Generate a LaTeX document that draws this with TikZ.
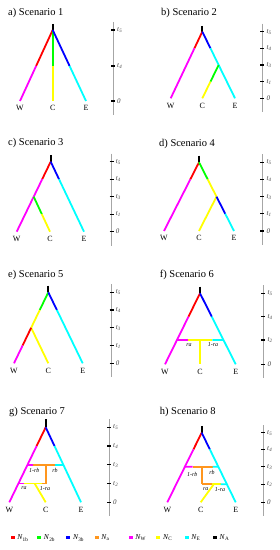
\documentclass[tikz,border=0pt]{standalone}
\usepackage{fontspec}
\setmainfont{Liberation Serif}
\usetikzlibrary{calc}
\definecolor{nbonecolor}{RGB}{255,0,0}
\definecolor{nbtwocolor}{RGB}{0,255,0}
\definecolor{nbthreecolor}{RGB}{0,0,255}
\definecolor{nacolor}{RGB}{255,150,30}
\definecolor{nwcolor}{RGB}{255,0,255}
\definecolor{nccolor}{RGB}{255,255,0}
\definecolor{necolor}{RGB}{0,255,255}
\definecolor{nancolor}{RGB}{0,0,0}

\newcommand{\tlab}[1]{\textit{t}\textsubscript{\textit{#1}}}
% time axis of one panel: prefix, x, top, list of height/label
\newcommand{\timeaxis}[4]{%
  \draw[axisline] (#2,#3) -- (#2,-14);
  \foreach \h/\lab [count=\i] in {#4} {
    \draw[axistick] (#2-2,\h) -- (#2+2,\h);
    \node[timelabel] (#1t\i) at (#2+4,\h) {\lab};
  }%
}

\begin{document}
\begin{tikzpicture}[x=1bp, y=1bp,
    branch/.style={line width=1.8bp},
    axisline/.style={gray!70, line width=0.6bp},
    axistick/.style={black, line width=1.3bp},
    timelabel/.style={font=\fontsize{7}{8}\selectfont, text=black!75, anchor=west, inner sep=0pt},
    leaflabel/.style={font=\fontsize{8}{9}\selectfont, anchor=north, inner sep=0pt},
    panelname/.style={font=\fontsize{10.5}{12}\selectfont, anchor=west, inner sep=0pt},
    ratelabel/.style={font=\fontsize{6}{7}\selectfont\itshape, inner sep=0pt},
    legendlabel/.style={font=\fontsize{7.5}{8}\selectfont, anchor=west, inner sep=0pt}]

  \useasboundingbox (0,0) rectangle (279,550);

  % a) one split, all three at t5
  \begin{scope}[shift={(52.7,449)}]
    \node[panelname] (atitle) at (-44.7,88) {a) Scenario 1};
    \coordinate (aT) at (0,77);
    \coordinate (aJ) at (0,71);
    \coordinate (aW) at (-32.7,0);
    \coordinate (aC) at (0,0);
    \coordinate (aE) at (33.3,0);
    \coordinate (aW4) at ($(aJ)!0.507!(aW)$);
    \coordinate (aC4) at (0,35);
    \coordinate (aE4) at ($(aJ)!0.507!(aE)$);
    \draw[branch, nancolor] (aT) -- (aJ);
    \draw[branch, nbonecolor] (aJ) -- (aW4);
    \draw[branch, nwcolor] (aW4) -- (aW);
    \draw[branch, nbtwocolor] (aJ) -- (aC4);
    \draw[branch, nccolor] (aC4) -- (aC);
    \draw[branch, nbthreecolor] (aJ) -- (aE4);
    \draw[branch, necolor] (aE4) -- (aE);
    \node[leaflabel] (aWl) at ($(aW)+(0,-4.3)$) {W};
    \node[leaflabel] (aCl) at ($(aC)+(0,-4.3)$) {C};
    \node[leaflabel] (aEl) at ($(aE)+(0,-4.3)$) {E};
    \timeaxis{a}{60.3}{79}{71/\tlab{5}, 35/\tlab{4}, 0/\textit{0}}
  \end{scope}

  % b) C splits from E at t3
  \begin{scope}[shift={(202.3,451.7)}]
    \node[panelname] (btitle) at (-41.3,85.3) {b) Scenario 2};
    \coordinate (bT) at (0,72.3);
    \coordinate (bJ) at (0,66.6);
    \coordinate (bW) at (-31.6,0);
    \coordinate (bC) at (0,0);
    \coordinate (bE) at (32.7,0);
    \coordinate (bN) at ($(bJ)!0.5!(bE)$);
    \coordinate (bW4) at ($(bJ)!0.25!(bW)$);
    \coordinate (bE4) at ($(bJ)!0.25!(bE)$);
    \coordinate (bC1) at ($(bN)!0.5!(bC)$);
    \draw[branch, nancolor] (bT) -- (bJ);
    \draw[branch, nbonecolor] (bJ) -- (bW4);
    \draw[branch, nwcolor] (bW4) -- (bW);
    \draw[branch, nbthreecolor] (bJ) -- (bE4);
    \draw[branch, necolor] (bE4) -- (bE);
    \draw[branch, nbtwocolor] (bN) -- (bC1);
    \draw[branch, nccolor] (bC1) -- (bC);
    \node[leaflabel] (bWl) at ($(bW)+(0,-4.3)$) {W};
    \node[leaflabel] (bCl) at ($(bC)+(0,-4.3)$) {C};
    \node[leaflabel] (bEl) at ($(bE)+(0,-4.3)$) {E};
    \timeaxis{b}{60}{74.6}{66.6/\tlab{5}, 50/\tlab{4}, 33.3/\tlab{3}, 16.6/\tlab{1}, 0/\textit{0}}
  \end{scope}

  % c) C splits from W at t3
  \begin{scope}[shift={(50.7,318.3)}]
    \node[panelname] (ctitle) at (-42.7,88.7) {c) Scenario 3};
    \coordinate (cT) at (0,76.7);
    \coordinate (cJ) at (0,70);
    \coordinate (cW) at (-34,0);
    \coordinate (cC) at (-0.7,0);
    \coordinate (cE) at (33.3,0);
    \coordinate (cN) at ($(cJ)!0.5!(cW)$);
    \coordinate (cW4) at ($(cJ)!0.25!(cW)$);
    \coordinate (cE4) at ($(cJ)!0.25!(cE)$);
    \coordinate (cC1) at ($(cN)!0.5!(cC)$);
    \draw[branch, nancolor] (cT) -- (cJ);
    \draw[branch, nbonecolor] (cJ) -- (cW4);
    \draw[branch, nwcolor] (cW4) -- (cW);
    \draw[branch, nbthreecolor] (cJ) -- (cE4);
    \draw[branch, necolor] (cE4) -- (cE);
    \draw[branch, nbtwocolor] (cN) -- (cC1);
    \draw[branch, nccolor] (cC1) -- (cC);
    \node[leaflabel] (cWl) at ($(cW)+(0,-4.3)$) {W};
    \node[leaflabel] (cCl) at ($(cC)+(0,-4.3)$) {C};
    \node[leaflabel] (cEl) at ($(cE)+(0,-4.3)$) {E};
    \timeaxis{c}{61}{78}{70/\tlab{5}, 52.5/\tlab{4}, 35/\tlab{3}, 17.5/\tlab{1}, 0/\textit{0}}
  \end{scope}

  % d) E splits from C at t3
  \begin{scope}[shift={(199,319)}]
    \node[panelname] (dtitle) at (-40,86.7) {d) Scenario 4};
    \coordinate (dT) at (0,75.3);
    \coordinate (dJ) at (0,68.7);
    \coordinate (dW) at (-35,0);
    \coordinate (dC) at (0,0);
    \coordinate (dE) at (35,0);
    \coordinate (dN) at ($(dJ)!0.5!(dE)$);
    \coordinate (dW4) at ($(dJ)!0.25!(dW)$);
    \coordinate (dG4) at ($(dJ)!0.25!(dE)$);
    \coordinate (dE1) at ($(dJ)!0.75!(dE)$);
    \draw[branch, nancolor] (dT) -- (dJ);
    \draw[branch, nbonecolor] (dJ) -- (dW4);
    \draw[branch, nwcolor] (dW4) -- (dW);
    \draw[branch, nbtwocolor] (dJ) -- (dG4);
    \draw[branch, nccolor] (dG4) -- (dN);
    \draw[branch, nccolor] (dN) -- (dC);
    \draw[branch, nbthreecolor] (dN) -- (dE1);
    \draw[branch, necolor] (dE1) -- (dE);
    \node[leaflabel] (dWl) at ($(dW)+(0,-4.3)$) {W};
    \node[leaflabel] (dCl) at ($(dC)+(0,-4.3)$) {C};
    \node[leaflabel] (dEl) at ($(dE)+(0,-4.3)$) {E};
    \timeaxis{d}{63.3}{76.7}{68.7/\tlab{5}, 51.5/\tlab{4}, 34.3/\tlab{3}, 17.2/\tlab{1}, 0/\textit{0}}
  \end{scope}

  % e) W splits from C at t3
  \begin{scope}[shift={(48.3,186.7)}]
    \node[panelname] (etitle) at (-40.3,88.3) {e) Scenario 5};
    \coordinate (eT) at (0,77.6);
    \coordinate (eJ) at (0,71);
    \coordinate (eW) at (-34.3,0);
    \coordinate (eC) at (0,0);
    \coordinate (eE) at (34.4,0);
    \coordinate (eN) at ($(eJ)!0.5!(eW)$);
    \coordinate (eG4) at ($(eJ)!0.25!(eW)$);
    \coordinate (eW1) at ($(eJ)!0.75!(eW)$);
    \coordinate (eE4) at ($(eJ)!0.25!(eE)$);
    \draw[branch, nancolor] (eT) -- (eJ);
    \draw[branch, nbtwocolor] (eJ) -- (eG4);
    \draw[branch, nccolor] (eG4) -- (eN);
    \draw[branch, nccolor] (eN) -- (eC);
    \draw[branch, nbonecolor] (eN) -- (eW1);
    \draw[branch, nwcolor] (eW1) -- (eW);
    \draw[branch, nbthreecolor] (eJ) -- (eE4);
    \draw[branch, necolor] (eE4) -- (eE);
    \node[leaflabel] (eWl) at ($(eW)+(0,-4.3)$) {W};
    \node[leaflabel] (eCl) at ($(eC)+(0,-4.3)$) {C};
    \node[leaflabel] (eEl) at ($(eE)+(0,-4.3)$) {E};
    \timeaxis{e}{63.4}{79}{71/\tlab{5}, 53.25/\tlab{4}, 35.5/\tlab{3}, 17.75/\tlab{1}, 0/\textit{0}}
  \end{scope}

  % f) C from admixture of W and E
  \begin{scope}[shift={(200,185.7)}]
    \node[panelname] (ftitle) at (-40.3,89.3) {f) Scenario 6};
    \coordinate (fT) at (0,77.6);
    \coordinate (fJ) at (0,71);
    \coordinate (fW) at (-35,0);
    \coordinate (fC) at (0,0);
    \coordinate (fE) at (35.7,0);
    \coordinate (fW4) at ($(fJ)!0.33!(fW)$);
    \coordinate (fE4) at ($(fJ)!0.33!(fE)$);
    \coordinate (fWA) at ($(fJ)!0.658!(fW)$);
    \coordinate (fEA) at ($(fJ)!0.658!(fE)$);
    \coordinate (fM1) at (-11.7,24.3);
    \coordinate (fCA) at (0,24.3);
    \coordinate (fM2) at (12.3,24.3);
    \draw[branch, nancolor] (fT) -- (fJ);
    \draw[branch, nbonecolor] (fJ) -- (fW4);
    \draw[branch, nwcolor] (fW4) -- (fW);
    \draw[branch, nbthreecolor] (fJ) -- (fE4);
    \draw[branch, necolor] (fE4) -- (fE);
    \draw[branch, nwcolor] (fWA) -- (fM1);
    \draw[branch, nccolor] (fM1) -- (fM2);
    \draw[branch, necolor] (fM2) -- (fEA);
    \draw[branch, nccolor] (fCA) -- (fC);
    \node[ratelabel] (fra) at (-11,19.3) {ra};
    \node[ratelabel] (fra1) at (13,19.3) {1-ra};
    \node[leaflabel] (fWl) at ($(fW)+(0,-4.3)$) {W};
    \node[leaflabel] (fCl) at ($(fC)+(0,-4.3)$) {C};
    \node[leaflabel] (fEl) at ($(fE)+(0,-4.3)$) {E};
    \timeaxis{f}{63.3}{79}{71/\tlab{5}, 47.6/\tlab{4}, 24.3/\tlab{2}, 0/\textit{0}}
  \end{scope}

  % g) two admixture pulses, W side
  \begin{scope}[shift={(45.7,47.7)}]
    \node[panelname] (gtitle) at (-36.7,90.6) {g) Scenario 7};
    \coordinate (gT) at (0,83);
    \coordinate (gJ) at (0,75);
    \coordinate (gW) at (-36.4,0);
    \coordinate (gC) at (0,0);
    \coordinate (gE) at (35.3,0);
    \coordinate (gW4) at ($(gJ)!0.25!(gW)$);
    \coordinate (gE4) at ($(gJ)!0.25!(gE)$);
    \coordinate (gWB) at ($(gJ)!0.5!(gW)$);
    \coordinate (gEB) at ($(gJ)!0.5!(gE)$);
    \coordinate (gWA) at ($(gJ)!0.75!(gW)$);
    \coordinate (gB1) at (-13,37.5);
    \coordinate (gBO) at (0,37.5);
    \coordinate (gB2) at (9,37.5);
    \coordinate (gA1) at (-22,18.75);
    \coordinate (gAC) at (-11,18.75);
    \coordinate (gA2) at (-4,18.75);
    \coordinate (gAO) at (0,18.75);
    \draw[branch, nancolor] (gT) -- (gJ);
    \draw[branch, nbonecolor] (gJ) -- (gW4);
    \draw[branch, nwcolor] (gW4) -- (gW);
    \draw[branch, nbthreecolor] (gJ) -- (gE4);
    \draw[branch, necolor] (gE4) -- (gE);
    \draw[branch, nwcolor] (gWB) -- (gB1);
    \draw[branch, nacolor] (gB1) -- (gB2);
    \draw[branch, necolor] (gB2) -- (gEB);
    \draw[branch, nacolor] (gBO) -- (gAO);
    \draw[branch, nwcolor] (gWA) -- (gA1);
    \draw[branch, nccolor] (gA1) -- (gA2);
    \draw[branch, nacolor] (gA2) -- (gAO);
    \draw[branch, nccolor] (gAC) -- (gC);
    \node[ratelabel] (grb1) at (-11.4,32.3) {1-rb};
    \node[ratelabel] (grb) at (9.3,32.3) {rb};
    \node[ratelabel] (gra) at (-21.7,14) {ra};
    \node[ratelabel] (gra1) at (-0.7,14) {1-ra};
    \node[leaflabel] (gWl) at ($(gW)+(0,-4.3)$) {W};
    \node[leaflabel] (gCl) at ($(gC)+(0,-4.3)$) {C};
    \node[leaflabel] (gEl) at ($(gE)+(0,-4.3)$) {E};
    \timeaxis{g}{63.3}{83}{75/\tlab{5}, 56.3/\tlab{4}, 37.5/\tlab{3}, 18.75/\tlab{2}, 0/\textit{0}}
  \end{scope}

  % h) two admixture pulses, E side
  \begin{scope}[shift={(201.7,47.7)}]
    \node[panelname] (htitle) at (-42,90.6) {h) Scenario 8};
    \coordinate (hT) at (0,76.3);
    \coordinate (hJ) at (0,69.6);
    \coordinate (hW) at (-34.4,0);
    \coordinate (hC) at (-1,0);
    \coordinate (hE) at (34,0);
    \coordinate (hW4) at ($(hJ)!0.24!(hW)$);
    \coordinate (hE4) at ($(hJ)!0.24!(hE)$);
    \coordinate (hWB) at ($(hJ)!0.49!(hW)$);
    \coordinate (hEB) at ($(hJ)!0.49!(hE)$);
    \coordinate (hEA) at ($(hJ)!0.74!(hE)$);
    \coordinate (hB1) at (-9,35.6);
    \coordinate (hBO) at (0,35.6);
    \coordinate (hB2) at (11,35.6);
    \coordinate (hAO) at (0,18);
    \coordinate (hA1) at (10,18);
    \coordinate (hAC) at (12,18);
    \coordinate (hA2) at (19,18);
    \draw[branch, nancolor] (hT) -- (hJ);
    \draw[branch, nbonecolor] (hJ) -- (hW4);
    \draw[branch, nwcolor] (hW4) -- (hW);
    \draw[branch, nbthreecolor] (hJ) -- (hE4);
    \draw[branch, necolor] (hE4) -- (hE);
    \draw[branch, nwcolor] (hWB) -- (hB1);
    \draw[branch, nacolor] (hB1) -- (hB2);
    \draw[branch, necolor] (hB2) -- (hEB);
    \draw[branch, nacolor] (hBO) -- (hAO);
    \draw[branch, nacolor] (hAO) -- (hA1);
    \draw[branch, nccolor] (hA1) -- (hA2);
    \draw[branch, necolor] (hA2) -- (hEA);
    \draw[branch, nccolor] (hAC) -- (hC);
    \node[ratelabel] (hrb1) at (-9.4,28) {1-rb};
    \node[ratelabel] (hrb) at (10.3,30) {rb};
    \node[ratelabel] (hra) at (4,13) {ra};
    \node[ratelabel] (hra1) at (18.3,13) {1-ra};
    \node[leaflabel] (hWl) at ($(hW)+(0,-4.3)$) {W};
    \node[leaflabel] (hCl) at ($(hC)+(0,-4.3)$) {C};
    \node[leaflabel] (hEl) at ($(hE)+(0,-4.3)$) {E};
    \timeaxis{h}{61.3}{77}{69.6/\tlab{5}, 53/\tlab{4}, 35.6/\tlab{3}, 18/\tlab{2}, 0/\textit{0}}
  \end{scope}

  % legend
  \foreach \x/\col/\sub [count=\i] in {12.7/nbonecolor/1b, 39.3/nbtwocolor/2b,
      68.3/nbthreecolor/3b, 96.7/nacolor/a, 130.7/nwcolor/W, 158.3/nccolor/C,
      186.7/necolor/E, 215/nancolor/A} {
    \fill[\col] (\x-2,10.5) rectangle (\x+2,13.5);
    \node[legendlabel] (leg\i) at (\x+4.5,12) {\textit{N}\textsubscript{\sub}};
  }

\end{tikzpicture}
\end{document}
